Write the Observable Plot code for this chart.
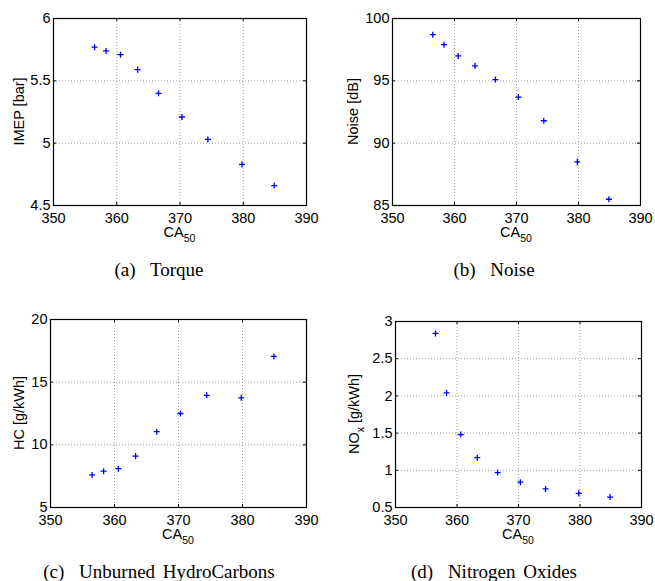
<!DOCTYPE html>
<html>
<head>
<meta charset="utf-8">
<script src="https://cdn.jsdelivr.net/npm/d3@7"></script>
<script src="https://cdn.jsdelivr.net/npm/@observablehq/plot@0.6"></script>
<style>
  html, body { margin: 0; padding: 0; background: #fff; }
  #wrap { position: relative; width: 655px; height: 581px; overflow: hidden; background: #fff; }
  .panel { position: absolute; }
  .cap { position: absolute; font-family: "Liberation Serif", "Times New Roman", serif; font-size: 19px; line-height: 19px; color: #000; white-space: nowrap; transform: translateX(-50%); word-spacing: 3px; }
  .cap .lab { margin-right: 7px; }
</style>
</head>
<body>
<div id="wrap"></div>
<script>
// ---- data ----
const ca50 = [356.5, 358.3, 360.6, 363.3, 366.6, 370.3, 374.4, 379.8, 384.9];
const imep = [5.77, 5.74, 5.71, 5.59, 5.40, 5.21, 5.03, 4.83, 4.66];
const noise = [98.7, 97.9, 97.0, 96.2, 95.1, 93.7, 91.8, 88.5, 85.5];
const hc = [7.6, 7.9, 8.1, 9.1, 11.05, 12.5, 13.95, 13.75, 17.05];
const nox = [2.84, 2.04, 1.48, 1.17, 0.97, 0.84, 0.75, 0.69, 0.64];

const xTicks = [350, 360, 370, 380, 390];
const imepTicks = [4.5, 5, 5.5, 6];
const noiseTicks = [85, 90, 95, 100];
const hcTicks = [5, 10, 15, 20];
const noxTicks = [0.5, 1, 1.5, 2, 2.5, 3];

const captions = [
  ["(a)", "Torque"],
  ["(b)", "Noise"],
  ["(c)", "Unburned HydroCarbons"],
  ["(d)", "Nitrogen Oxides"]
];

// ---- layout ----
const wrap = document.getElementById("wrap");
const FONT = "'Liberation Sans', Arial, Helvetica, sans-serif";

function makePanel(cfg) {
  const {left, top, width, height, mL, mR, mT, mB, ys, yTicks, yParts, yX, capX, capY, cap} = cfg;
  const fw = width - mL - mR, fh = height - mT - mB;
  const data = ca50.map((x, i) => ({x, y: ys[i]}));
  const yDomain = [yTicks[0], yTicks[yTicks.length - 1]];
  const inner = a => a.slice(1, -1);
  const tl = 3;
  const plot = Plot.plot({
    width, height,
    marginLeft: mL, marginRight: mR, marginTop: mT, marginBottom: mB,
    x: {domain: [xTicks[0], xTicks[xTicks.length - 1]]},
    y: {domain: yDomain},
    style: {fontFamily: FONT, fontSize: "14.5px", color: "#000", background: "transparent", overflow: "visible"},
    marks: [
      Plot.gridX(inner(xTicks), {stroke: "#888", strokeOpacity: 1, strokeDasharray: "1,2", strokeWidth: 0.8}),
      Plot.gridY(inner(yTicks), {stroke: "#888", strokeOpacity: 1, strokeDasharray: "1,2", strokeWidth: 0.8}),
      Plot.axisX(xTicks, {tickSize: 0, tickPadding: 7, label: null, tickFormat: d => String(d)}),
      Plot.axisY(yTicks, {tickSize: 0, tickPadding: 3, label: null, tickFormat: d => String(d)}),
      Plot.tickX(xTicks, {x: d => d, insetTop: fh - tl, stroke: "#000"}),
      Plot.tickX(xTicks, {x: d => d, insetBottom: fh - tl, stroke: "#000"}),
      Plot.tickY(yTicks, {y: d => d, insetRight: fw - tl, stroke: "#000"}),
      Plot.tickY(yTicks, {y: d => d, insetLeft: fw - tl, stroke: "#000"}),
      Plot.frame({stroke: "#000", strokeWidth: 1.2}),
      Plot.dot(data, {x: "x", y: "y", symbol: "plus", r: 2.1, stroke: "#0000ff", strokeWidth: 1.3})
    ]
  });
  const div = document.createElement("div");
  div.className = "panel";
  div.style.left = left + "px";
  div.style.top = top + "px";
  div.appendChild(plot);
  wrap.appendChild(div);

  const svg = d3.select(plot);
  // x label CA_50
  const xl = svg.append("text")
    .attr("x", mL + fw / 2).attr("y", mT + fh + 32)
    .attr("text-anchor", "middle")
    .attr("font-family", FONT).attr("font-size", "14.5px").attr("fill", "#000");
  xl.append("tspan").text("CA");
  xl.append("tspan").attr("font-size", "10.5px").attr("dy", "5").text("50");
  // y label (baseline placed at yX, panel-local)
  const yl = svg.append("text")
    .attr("transform", `translate(${yX},${mT + fh / 2}) rotate(-90)`)
    .attr("text-anchor", "middle")
    .attr("font-family", FONT).attr("font-size", "14.5px").attr("fill", "#000");
  yParts.forEach(([t, sub], i) => {
    const ts = yl.append("tspan").text(t);
    if (sub) ts.attr("font-size", "10.5px").attr("dy", "5");
    else if (i > 0) ts.attr("dy", "-5");
  });

  const c = document.createElement("div");
  c.className = "cap";
  c.style.left = capX + "px";
  c.style.top = capY + "px";
  const lab = document.createElement("span");
  lab.className = "lab";
  lab.textContent = cap[0];
  c.appendChild(lab);
  c.appendChild(document.createTextNode(" " + cap[1]));
  wrap.appendChild(c);
}

makePanel({left: 0, top: 0, width: 327, height: 250, mL: 53, mR: 21, mT: 18, mB: 45,
  ys: imep, yTicks: imepTicks, yParts: [["IMEP [bar]"]], yX: 23.5, capX: 159, capY: 260, cap: captions[0]});
makePanel({left: 327, top: 0, width: 328, height: 250, mL: 65, mR: 15, mT: 18, mB: 45,
  ys: noise, yTicks: noiseTicks, yParts: [["Noise [dB]"]], yX: 30.5, capX: 494, capY: 260, cap: captions[1]});
makePanel({left: 0, top: 290, width: 327, height: 255, mL: 50, mR: 21, mT: 29, mB: 38,
  ys: hc, yTicks: hcTicks, yParts: [["HC [g/kWh]"]], yX: 24, capX: 159, capY: 562, cap: captions[2]});
makePanel({left: 327, top: 290, width: 328, height: 255, mL: 68, mR: 14, mT: 31, mB: 38,
  ys: nox, yTicks: noxTicks, yParts: [["NO"], ["x", true], [" [g/kWh]"]], yX: 31.5, capX: 494, capY: 562, cap: captions[3]});
</script>
</body>
</html>
